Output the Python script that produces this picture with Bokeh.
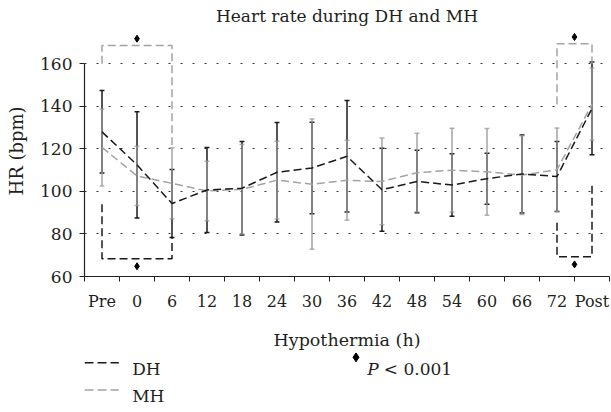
from bokeh.plotting import figure
from bokeh.models import FixedTicker, Range1d
from bokeh.layouts import column
from bokeh.embed import file_html
from bokeh.resources import INLINE
from bokeh.core.properties import value

categories = ["Pre", "0", "6", "12", "18", "24", "30", "36", "42", "48", "54", "60", "66", "72", "Post"]
dh_mean = [128.0, 112.5, 94.3, 100.7, 101.5, 109.0, 111.0, 116.5, 100.8, 104.7, 103.0, 106.0, 108.2, 107.0, 139.0]
dh_sd = [19.4, 25.0, 16.0, 20.0, 22.0, 23.4, 21.5, 26.2, 19.5, 14.7, 14.7, 12.0, 18.3, 16.5, 21.8]
mh_mean = [120.7, 107.3, 103.8, 100.2, 101.0, 105.3, 103.4, 105.2, 104.7, 108.8, 110.0, 109.2, 107.7, 110.2, 141.0]
mh_sd = [18.1, 13.9, 16.7, 14.0, 21.0, 18.3, 30.6, 18.8, 20.4, 18.5, 19.7, 20.4, 18.5, 19.6, 17.0]
y_ticks = [60, 80, 100, 120, 140, 160]
series_names = ["DH", "MH"]

# significance brackets (P < 0.001)
sig_start = ["Pre", "72"]
sig_end = ["6", "Post"]
mh_bracket_top = [168.6, 169.4]
mh_leg_a = [160.0, 141.0]
mh_leg_b = [120.5, 160.0]
dh_bracket_bottom = [68.4, 69.3]
dh_leg_a = [94.0, 85.3]
dh_leg_b = [78.1, 104.2]
sig_note = ["P", "< 0.001"]

TXT = "#231f20"
FONT = "DejaVu Serif"
DH_C = "#1a1a1a"
MH_C = "#a3a3a3"
DASH = "8 4"

idx = {c: i for i, c in enumerate(categories)}
xs = [idx[c] for c in categories]

p = figure(width=611, height=352, x_range=(-0.5, 14.5), y_range=(60, 178.0),
           output_backend="svg", toolbar_location=None,
           min_border_left=84, min_border_right=2, min_border_top=25, min_border_bottom=76)
p.title.text = "Heart rate during DH and MH"
p.title.align = "center"
p.title.text_font = FONT
p.title.text_font_size = "17px"
p.title.text_font_style = "normal"
p.title.text_color = TXT
p.title.standoff = 0
p.outline_line_color = None
p.background_fill_color = "white"
p.border_fill_color = "white"

# axes
p.xaxis.ticker = FixedTicker(ticks=xs, minor_ticks=[i - 0.5 for i in range(len(categories) + 1)])
p.xaxis.major_label_overrides = {i: c for i, c in enumerate(categories)}
p.xaxis.major_tick_out = 0
p.xaxis.major_tick_in = 0
p.xaxis.minor_tick_out = 5
p.xaxis.minor_tick_in = 0
p.xaxis.axis_label = "Hypothermia (h)"
p.yaxis.ticker = FixedTicker(ticks=y_ticks)
p.yaxis.bounds = (60, 160)
p.yaxis.major_tick_out = 5
p.yaxis.major_tick_in = 0
p.yaxis.axis_label = "HR (bpm)"
for ax in (p.xaxis[0], p.yaxis[0]):
    ax.axis_line_color = TXT
    ax.axis_line_width = 1.2
    ax.major_tick_line_color = TXT
    ax.minor_tick_line_color = TXT
    ax.major_label_text_font = FONT
    ax.major_label_text_font_size = "16px"
    ax.major_label_text_color = TXT
    ax.axis_label_text_font = FONT
    ax.axis_label_text_font_size = "17.5px"
    ax.axis_label_text_font_style = "normal"
    ax.axis_label_text_color = TXT
p.yaxis.major_label_text_font_size = "17px"
p.yaxis.axis_label_text_font_size = "18px"
p.xaxis.major_label_standoff = 10
p.xaxis.axis_label_standoff = 16
p.yaxis.major_label_standoff = 7
p.yaxis.axis_label_standoff = 10

p.xgrid.visible = False
p.ygrid.ticker = FixedTicker(ticks=y_ticks[1:])
p.ygrid.grid_line_color = "#333333"
p.ygrid.grid_line_dash = "2 10"
p.ygrid.grid_line_width = 1

cw = 0.07
# error bars DH
p.segment(x0=xs, y0=[m - s for m, s in zip(dh_mean, dh_sd)], x1=xs, y1=[m + s for m, s in zip(dh_mean, dh_sd)],
          line_color=DH_C, line_width=1.5)
for sign in (-1, 1):
    ys = [m + sign * s for m, s in zip(dh_mean, dh_sd)]
    p.segment(x0=[x - cw for x in xs], y0=ys, x1=[x + cw for x in xs], y1=ys, line_color=DH_C, line_width=1.5)
# error bars MH
p.segment(x0=xs, y0=[m - s for m, s in zip(mh_mean, mh_sd)], x1=xs, y1=[m + s for m, s in zip(mh_mean, mh_sd)],
          line_color="#999999", line_alpha=0.75, line_width=1.8)
for sign in (-1, 1):
    ys = [m + sign * s for m, s in zip(mh_mean, mh_sd)]
    p.segment(x0=[x - cw for x in xs], y0=ys, x1=[x + cw for x in xs], y1=ys,
              line_color="#999999", line_alpha=0.75, line_width=1.5)

# mean lines
p.line(xs, mh_mean, line_color=MH_C, line_dash=DASH, line_width=1.5)
p.line(xs, dh_mean, line_color=DH_C, line_dash=DASH, line_width=1.5)

# significance brackets
a = [idx[c] for c in sig_start]
b = [idx[c] for c in sig_end]
p.multi_line(xs=[[a[k], a[k], b[k], b[k]] for k in range(2)],
             ys=[[mh_leg_a[k], mh_bracket_top[k], mh_bracket_top[k], mh_leg_b[k]] for k in range(2)],
             line_color=MH_C, line_dash=DASH, line_width=1.5)
p.multi_line(xs=[[a[k], a[k], b[k], b[k]] for k in range(2)],
             ys=[[dh_leg_a[k], dh_bracket_bottom[k], dh_bracket_bottom[k], dh_leg_b[k]] for k in range(2)],
             line_color=DH_C, line_dash=DASH, line_width=1.5)
mid = [(a[k] + b[k]) / 2 for k in range(2)]
p.scatter(mid + mid, [t + 3.2 for t in mh_bracket_top] + [t - 3.6 for t in dh_bracket_bottom],
          marker="diamond", size=7, color="black")

# legend / note strip (pixel coordinates, frame aligned with the chart's frame)
q = figure(width=611, height=53, x_range=Range1d(84, 609), y_range=Range1d(53, 0),
           output_backend="svg", toolbar_location=None, x_axis_type=None, y_axis_type=None,
           min_border_left=84, min_border_right=2, min_border_top=0, min_border_bottom=0)
q.outline_line_color = None
q.grid.visible = False
q.background_fill_color = "white"
q.border_fill_color = "white"
row_y = [10.2, 37.5]
q.segment(x0=[84, 84], x1=[118.3, 118.3], y0=row_y, y1=row_y, line_color=[DH_C, MH_C],
          line_dash="9 4", line_width=1.5)
q.text(x=[131.7, 131.7], y=[y + 6.3 for y in row_y], text=series_names, text_font=value(FONT),
       text_font_size="17px", text_baseline="alphabetic", text_color=TXT)
q.scatter([355.5], [4.8], marker="diamond", size=9, color="black")
q.text(x=[366.7], y=[16.5], text=sig_note[:1], text_font=value(FONT), text_font_style="italic",
       text_font_size="17px", text_baseline="alphabetic", text_color=TXT)
q.text(x=[383.3], y=[16.5], text=sig_note[1:], text_font=value(FONT),
       text_font_size="17px", text_baseline="alphabetic", text_color=TXT)

layout = column(p, q, spacing=0)
open("out.html", "w").write(file_html(layout, INLINE))
